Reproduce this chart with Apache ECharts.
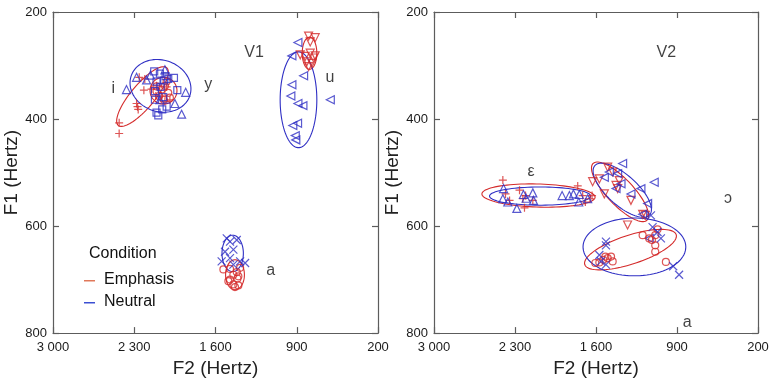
<!DOCTYPE html>
<html>
<head>
<meta charset="utf-8">
<script src="https://cdn.jsdelivr.net/npm/echarts@6/dist/echarts.min.js"></script>
<style>
  html, body { margin: 0; padding: 0; background: #fff; }
  #chart { width: 772px; height: 383px; }
</style>
</head>
<body>
<div id="chart"></div>
<script>
// F2 / F1 values in Hertz, [F2, F1]
// V1 panel
var v1_i_emph = [[2430,407],[2430,427],[2280,371],[2272,377],[2266,382],[2257,322],[2209,325],[2217,346],[2151,344],[2108,338],[2021,340],[2065,357],[1993,364],[2114,357],[2036,367]];
var v1_i_neut = [[2367,345],[2280,322],[2036,308],[1892,391],[1857,350],[1950,371],[2194,327],[2079,364],[2160,318]];
var v1_y_emph = [[2108,339],[2065,345],[2036,338],[2007,351],[2085,357],[2045,364],[1993,360],[2108,348],[2021,330]];
var v1_y_neut = [[2128,311],[2079,315],[2030,320],[2007,325],[1958,323],[1929,346],[2108,330],[2050,359],[2122,364],[2093,393],[2108,388],[2059,382],[2021,377],[2122,348],[2073,340],[2042,328]];
var v1_u_emph = [[798,245],[741,248],[784,256],[870,280],[827,283],[784,277],[755,286],[813,293],[770,296],[798,302],[741,282]];
var v1_u_neut = [[890,257],[942,282],[841,319],[942,336],[951,357],[890,371],[847,375],[934,412],[893,408],[913,431],[908,439],[611,364]];
var v1_a_emph = [[1532,681],[1475,680],[1417,686],[1403,694],[1489,703],[1446,709],[1432,714],[1403,711],[1475,700],[1388,678],[1411,698],[1446,691]];
var v1_a_neut = [[1503,623],[1475,629],[1417,626],[1518,648],[1446,644],[1475,660],[1547,666],[1388,666],[1446,672],[1345,669]];

// V2 panel
var v2_e_emph = [[2405,514],[2382,540],[2347,552],[2261,533],[2232,549],[2209,543],[2218,566],[2146,552],[1758,525],[1715,543],[1692,555],[1634,543],[1652,549]];
var v2_e_neut = [[2399,530],[2405,549],[2362,555],[2284,567],[2227,541],[2204,548],[2146,538],[2140,552],[1893,543],[1830,543],[1795,540],[1744,541],[1749,555],[1672,549]];
var v2_o_emph = [[1629,517],[1571,512],[1499,490],[1528,540],[1456,499],[1427,524],[1399,515],[1298,552],[1327,598],[1197,578],[1174,580],[1413,530]];
var v2_o_neut = [[1370,483],[1528,509],[1485,499],[1413,502],[1384,521],[1427,530],[1298,540],[1212,530],[1097,518],[1154,558],[1197,578],[1140,623]];
var v2_a_emph = [[1606,669],[1571,668],[1537,663],[1499,660],[1456,666],[1519,657],[1470,657],[1197,617],[1140,623],[1088,617],[1068,606],[1088,636],[1088,648],[996,667],[1117,626]];
var v2_a_neut = [[1514,629],[1514,636],[1571,654],[1557,666],[1514,672],[1125,580],[1111,602],[1068,611],[1039,623],[933,675],[882,691]];

// ellipses: [centerF2, centerF1, axis1 dF2, axis1 dF1, axis2 dF2, axis2 dF1]
var v1_ell_emph = [[2229,358,-208,-54,-79,14],[2048,347,116,0,0,25],[790,277,63,0,0,30],[1432,691,81,0,0,28]];
var v1_ell_neut = [[2074,338,-251,19.6,76.7,45.2],[885,364,158,0,0,89.5],[1452,651,92,0,0,34]];
var v2_ell_emph = [[2097,543,489,-3,0,21.6],[1392,536,-233,53,-82,-17],[1302,644,-395,-28,-39,25.5]];
var v2_ell_neut = [[2083,544,437,0,0,17],[1373,533,-237,46,-86,-21],[1268,639,444,0,0,54]];

// vowel labels [F2, F1, text]
var v1_labels = [[1268,276,'V1'],[2480,344,'i'],[1662,335,'y'],[614,323,'u'],[1125,683,'a']];
var v2_labels = [[993,276,'V2'],[2162,499,'ε'],[459,548,'ɔ'],[812,780,'a']];

var f2Ticks = { min: 200, max: 3000, step: 700 };
var f1Ticks = { min: 200, max: 800, step: 200 };

var RED = '#d42a2a';
var BLUE = '#2f2fc4';
var AXIS = '#5c5c5c';
var FONT = 'Liberation Sans, Arial, sans-serif';

var PLUS = 'path://M5,0L5,10M0,5L10,5';
var CROSS = 'path://M0,0L10,10M10,0L0,10';

var myChart = echarts.init(document.getElementById('chart'));

function hz(v) {
    if (v >= 1000) {
        return Math.floor(v / 1000) + ' ' + String(v % 1000).padStart(3, '0');
    }
    return String(v);
}

function xAxisOf(grid, pos) {
    return {
        type: 'value', gridIndex: grid, position: pos,
        min: f2Ticks.min, max: f2Ticks.max, interval: f2Ticks.step, inverse: true,
        axisLine: { show: true, onZero: false, lineStyle: { color: AXIS, width: 1.2 } },
        axisTick: { show: true, inside: true, length: 6, lineStyle: { color: AXIS, width: 1.2 } },
        axisLabel: { show: pos == 'bottom', formatter: hz, color: '#1a1a1a', fontSize: 13, fontFamily: FONT, margin: 8 },
        splitLine: { show: false },
        name: pos == 'bottom' ? 'F2 (Hertz)' : '',
        nameLocation: 'middle', nameGap: 23,
        nameTextStyle: { fontSize: 19, color: '#222', fontFamily: FONT }
    };
}

function yAxisOf(grid, pos) {
    return {
        type: 'value', gridIndex: grid, position: pos,
        min: f1Ticks.min, max: f1Ticks.max, interval: f1Ticks.step, inverse: true,
        axisLine: { show: true, onZero: false, lineStyle: { color: AXIS, width: 1.2 } },
        axisTick: { show: true, inside: true, length: 6, lineStyle: { color: AXIS, width: 1.2 } },
        axisLabel: { show: pos == 'left', color: '#1a1a1a', fontSize: 13, fontFamily: FONT, margin: 6 },
        splitLine: { show: false },
        name: pos == 'left' ? 'F1 (Hertz)' : '',
        nameLocation: 'middle', nameGap: 28, nameRotate: 90,
        nameTextStyle: { fontSize: 19, color: '#222', fontFamily: FONT }
    };
}

function points(name, data, axis, color, symbol, size, rotate) {
    return {
        name: name, type: 'scatter', xAxisIndex: axis, yAxisIndex: axis,
        data: data, symbol: symbol, symbolSize: size, symbolRotate: rotate || 0,
        itemStyle: { color: 'transparent', borderColor: color, borderWidth: 1.2 },
        emphasis: { disabled: true }, z: 3
    };
}

function renderEllipse(params, api) {
    var c = [api.value(0), api.value(1)];
    var u = [api.value(2), api.value(3)];
    var v = [api.value(4), api.value(5)];
    var pts = [];
    for (var k = 0; k < 90; k++) {
        var t = k / 90 * Math.PI * 2;
        pts.push(api.coord([
            c[0] + Math.cos(t) * u[0] + Math.sin(t) * v[0],
            c[1] + Math.cos(t) * u[1] + Math.sin(t) * v[1]
        ]));
    }
    return {
        type: 'polygon',
        shape: { points: pts },
        style: { fill: 'none', stroke: api.visual('color'), lineWidth: 1.1 }
    };
}

function ellipses(name, data, axis, color) {
    return {
        name: name, type: 'custom', xAxisIndex: axis, yAxisIndex: axis,
        renderItem: renderEllipse, data: data, clip: false,
        dimensions: ['f2', 'f1', 'a1', 'b1', 'a2', 'b2'],
        encode: { x: 0, y: 1 },
        itemStyle: { color: color }, z: 2, silent: true
    };
}

function labels(data, axis) {
    return {
        type: 'scatter', xAxisIndex: axis, yAxisIndex: axis,
        data: data, symbolSize: 1, itemStyle: { color: 'transparent' },
        label: {
            show: true, position: 'inside',
            formatter: function (p) { return p.value[2]; },
            color: '#111', fontSize: 16, fontFamily: FONT
        },
        silent: true, z: 4
    };
}

var option = {
    animation: false,
    backgroundColor: '#fff',
    grid: [
        { left: 53, right: 394, top: 12, bottom: 47 },
        { left: 434, right: 14, top: 12, bottom: 47 }
    ],
    // axis 0/2: bottom + left, axis 1/3: top + right (ticks only)
    xAxis: [xAxisOf(0, 'bottom'), xAxisOf(0, 'top'), xAxisOf(1, 'bottom'), xAxisOf(1, 'top')],
    yAxis: [yAxisOf(0, 'left'), yAxisOf(0, 'right'), yAxisOf(1, 'left'), yAxisOf(1, 'right')],
    graphic: [
        { type: 'text', left: 89, top: 246, style: { text: 'Condition', fill: '#111', font: '16px ' + FONT } },
        { type: 'rect', left: 84, top: 280, shape: { width: 11, height: 1.5 }, style: { fill: '#e0785a' } },
        { type: 'text', left: 104, top: 272, style: { text: 'Emphasis', fill: '#111', font: '16px ' + FONT } },
        { type: 'rect', left: 84, top: 302, shape: { width: 11, height: 1.5 }, style: { fill: '#3b4fd2' } },
        { type: 'text', left: 104, top: 294, style: { text: 'Neutral', fill: '#111', font: '16px ' + FONT } }
    ],
    series: [
        ellipses('Emphasis', v1_ell_emph, 0, RED),
        ellipses('Neutral', v1_ell_neut, 0, BLUE),
        points('Emphasis', v1_i_emph, 0, RED, PLUS, 8),
        points('Neutral', v1_i_neut, 0, BLUE, 'triangle', 8),
        points('Emphasis', v1_y_emph, 0, RED, 'circle', 7),
        points('Neutral', v1_y_neut, 0, BLUE, 'rect', 7),
        points('Emphasis', v1_u_emph, 0, RED, 'triangle', 8, 180),
        points('Neutral', v1_u_neut, 0, BLUE, 'triangle', 8, 90),
        points('Emphasis', v1_a_emph, 0, RED, 'circle', 7),
        points('Neutral', v1_a_neut, 0, BLUE, CROSS, 8),
        labels(v1_labels, 0),

        ellipses('Emphasis', v2_ell_emph, 2, RED),
        ellipses('Neutral', v2_ell_neut, 2, BLUE),
        points('Emphasis', v2_e_emph, 2, RED, PLUS, 8),
        points('Neutral', v2_e_neut, 2, BLUE, 'triangle', 8),
        points('Emphasis', v2_o_emph, 2, RED, 'triangle', 8, 180),
        points('Neutral', v2_o_neut, 2, BLUE, 'triangle', 8, 90),
        points('Emphasis', v2_a_emph, 2, RED, 'circle', 7),
        points('Neutral', v2_a_neut, 2, BLUE, CROSS, 8),
        labels(v2_labels, 2)
    ]
};

myChart.setOption(option, true);
</script>
</body>
</html>
